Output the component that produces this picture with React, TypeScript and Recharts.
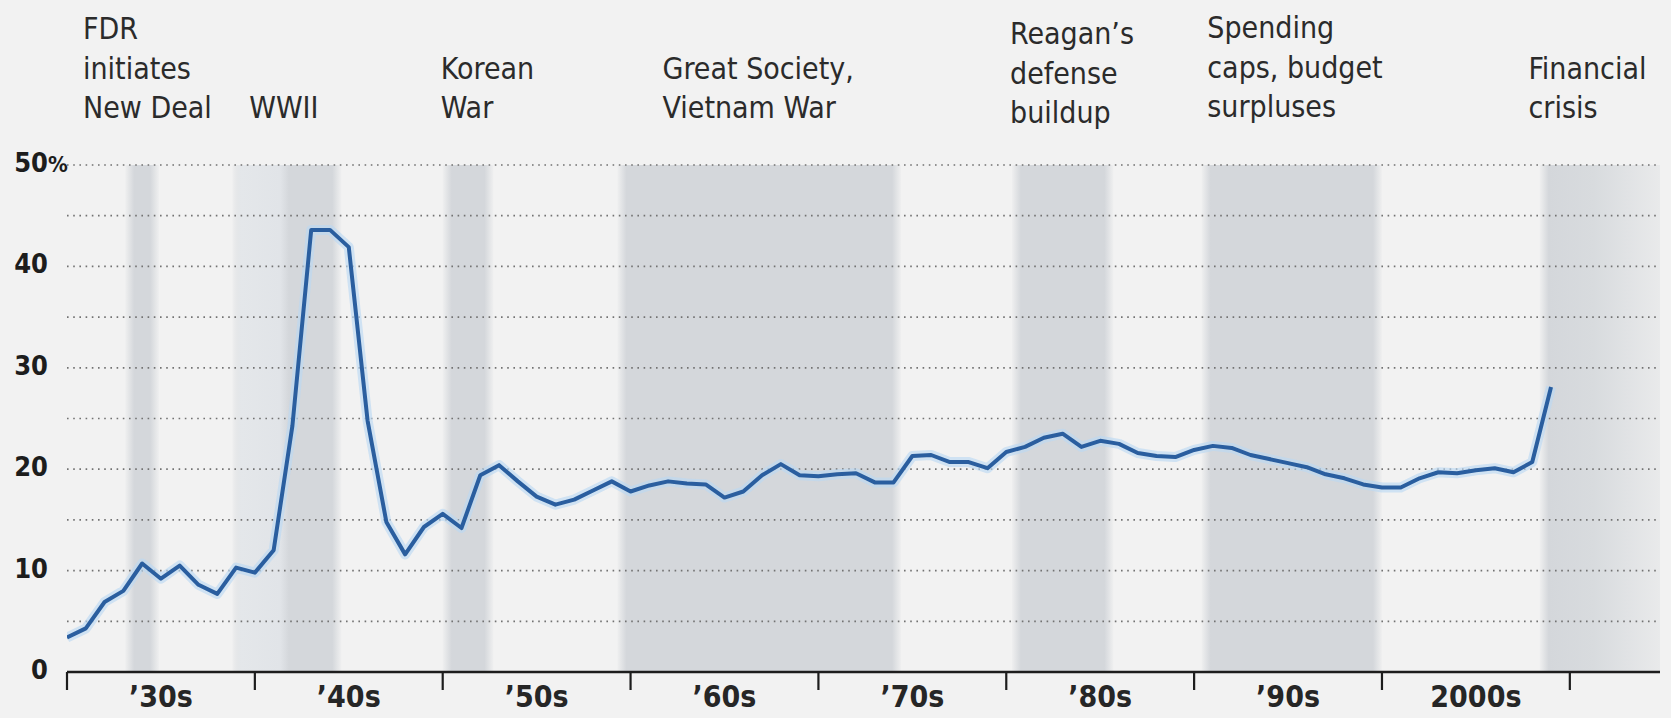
import React from "react";
import { LineChart, Line, XAxis, YAxis, ReferenceArea, ReferenceLine } from "recharts";

// Federal outlays as a share of GDP, fiscal years 1930-2009
const years = [
  1930, 1931, 1932, 1933, 1934, 1935, 1936, 1937, 1938, 1939,
  1940, 1941, 1942, 1943, 1944, 1945, 1946, 1947, 1948, 1949,
  1950, 1951, 1952, 1953, 1954, 1955, 1956, 1957, 1958, 1959,
  1960, 1961, 1962, 1963, 1964, 1965, 1966, 1967, 1968, 1969,
  1970, 1971, 1972, 1973, 1974, 1975, 1976, 1977, 1978, 1979,
  1980, 1981, 1982, 1983, 1984, 1985, 1986, 1987, 1988, 1989,
  1990, 1991, 1992, 1993, 1994, 1995, 1996, 1997, 1998, 1999,
  2000, 2001, 2002, 2003, 2004, 2005, 2006, 2007, 2008, 2009,
];
const spending = [
  3.4, 4.3, 6.9, 8.0, 10.7, 9.2, 10.5, 8.6, 7.7, 10.3,
  9.8, 12.0, 24.3, 43.6, 43.6, 41.9, 24.8, 14.8, 11.6, 14.3,
  15.6, 14.2, 19.4, 20.4, 18.8, 17.3, 16.5, 17.0, 17.9, 18.8,
  17.8, 18.4, 18.8, 18.6, 18.5, 17.2, 17.8, 19.4, 20.5, 19.4,
  19.3, 19.5, 19.6, 18.7, 18.7, 21.3, 21.4, 20.7, 20.7, 20.1,
  21.7, 22.2, 23.1, 23.5, 22.2, 22.8, 22.5, 21.6, 21.3, 21.2,
  21.9, 22.3, 22.1, 21.4, 21.0, 20.6, 20.2, 19.5, 19.1, 18.5,
  18.2, 18.2, 19.1, 19.7, 19.6, 19.9, 20.1, 19.7, 20.7, 28.1,
];

const decadeTicks = [1930, 1940, 1950, 1960, 1970, 1980, 1990, 2000, 2010];
const decadeLabelAt = [1935, 1945, 1955, 1965, 1975, 1985, 1995, 2005];
const decadeLabels = ["\u201930s", "\u201940s", "\u201950s", "\u201960s", "\u201970s", "\u201980s", "\u201990s", "2000s"];
const yTicks = [0, 5, 10, 15, 20, 25, 30, 35, 40, 45, 50];

// shaded eras
const eraStart = [1933.1, 1938.8, 1950.0, 1959.3, 1980.3, 1990.4, 2008.4];
const eraEnd = [1934.9, 1944.6, 1952.7, 1974.4, 1985.7, 2000.0, 2014.8];
const eraLabels = [
  ["FDR", "initiates", "New Deal"],
  ["WWII"],
  ["Korean", "War"],
  ["Great Society,", "Vietnam War"],
  ["Reagan\u2019s", "defense", "buildup"],
  ["Spending", "caps, budget", "surpluses"],
  ["Financial", "crisis"],
];
const eraLabelYear = [1930.85, 1939.7, 1949.9, 1961.7, 1980.2, 1990.7, 2007.8];

const data = years.map((year, i) => ({ year, v: spending[i] }));

const W = 1671;
const H = 718;
const PLOT_LEFT = 67;
const PLOT_RIGHT = 1660;
const PLOT_TOP = 165;
const X_AXIS_H = 46;
const Y_AXIS_W = 60;
const X_MIN = 1930;
const X_MAX = 2014.8;

const BG = "#f2f2f2";
const BAND = "#d4d7db";
const INK = "#1d1d1d";
const FONT = "'Liberation Sans Narrow', 'DejaVu Sans Condensed', 'DejaVu Sans', sans-serif";

const pxPerYear = (PLOT_RIGHT - PLOT_LEFT) / (X_MAX - X_MIN);
const yearToX = (y: number) => PLOT_LEFT + (y - X_MIN) * pxPerYear;

// shading profile per era: WWII lighter before US entry, crisis fades out to the right
const bandProfile = ["flat", "lightLeft", "flat", "flat", "flat", "flat", "fadeRight"];
const labelLastBaseline = [118, 118, 118, 118, 123, 117, 118];
const LINE_GAP = 39.5;

function BandGradient({ id, profile, widthPx }: { id: string; profile: string; widthPx: number }) {
  const e = Math.min(0.3, 9 / widthPx);
  if (profile === "lightLeft") {
    return (
      <linearGradient id={id} x1="0" x2="1" y1="0" y2="0">
        <stop offset="0" stopColor={BAND} stopOpacity={0.1} />
        <stop offset="0.08" stopColor="#e4e7ea" stopOpacity={1} />
        <stop offset="0.44" stopColor="#e1e4e8" stopOpacity={1} />
        <stop offset="0.52" stopColor={BAND} stopOpacity={1} />
        <stop offset={1 - e} stopColor={BAND} stopOpacity={1} />
        <stop offset="1" stopColor={BAND} stopOpacity={0.1} />
      </linearGradient>
    );
  }
  if (profile === "fadeRight") {
    return (
      <linearGradient id={id} x1="0" x2="1" y1="0" y2="0">
        <stop offset="0" stopColor={BAND} stopOpacity={0.1} />
        <stop offset={e} stopColor={BAND} stopOpacity={1} />
        <stop offset="0.45" stopColor="#d8dbde" stopOpacity={1} />
        <stop offset="1" stopColor="#e9eaeb" stopOpacity={1} />
      </linearGradient>
    );
  }
  return (
    <linearGradient id={id} x1="0" x2="1" y1="0" y2="0">
      <stop offset="0" stopColor={BAND} stopOpacity={0.1} />
      <stop offset={e} stopColor={BAND} stopOpacity={1} />
      <stop offset={1 - e} stopColor={BAND} stopOpacity={1} />
      <stop offset="1" stopColor={BAND} stopOpacity={0.1} />
    </linearGradient>
  );
}

function XTick(props: any) {
  const { x, y, payload } = props;
  const v = payload.value;
  if (decadeTicks.includes(v)) {
    return <line x1={x} x2={x} y1={y} y2={y + 18} stroke={INK} strokeWidth={2.2} />;
  }
  const idx = decadeLabelAt.indexOf(v);
  return (
    <text x={x} y={y + 35} textAnchor="middle" fontFamily={FONT} fontSize={30} fontWeight={700} fill="#262626">
      {decadeLabels[idx]}
    </text>
  );
}

function YTick(props: any) {
  const { x, y, payload } = props;
  const v = payload.value;
  if (v % 10 !== 0) return <g />;
  const tx = x - 19;
  return (
    <g>
      <text x={tx} y={y + 7} textAnchor="end" fontFamily={FONT} fontSize={27} fontWeight={700} fill={INK}>
        {v}
      </text>
      {v === 50 && (
        <text x={tx} y={y + 7} textAnchor="start" fontFamily={FONT} fontSize={22} fontWeight={700} fill={INK}>
          %
        </text>
      )}
    </g>
  );
}

export default function App() {
  return (
    <div style={{ position: "fixed", left: 0, top: 0, width: W, height: H, background: BG, overflow: "hidden" }}>
      <svg width={0} height={0} style={{ position: "absolute" }}>
        <defs>
          {eraStart.map((s, i) => (
            <BandGradient key={i} id={`era-${i}`} profile={bandProfile[i]} widthPx={(eraEnd[i] - s) * pxPerYear} />
          ))}
        </defs>
      </svg>

      <LineChart
        width={W}
        height={H}
        data={data}
        margin={{ top: PLOT_TOP, right: W - PLOT_RIGHT, bottom: 0, left: PLOT_LEFT - Y_AXIS_W }}
      >
        {eraStart.map((s, i) => (
          <ReferenceArea
            key={`era-${i}`}
            x1={s}
            x2={eraEnd[i]}
            y1={0}
            y2={50}
            fill={`url(#era-${i})`}
            fillOpacity={1}
            stroke="none"
            ifOverflow="visible"
          />
        ))}
        {yTicks.slice(1).map((t) => (
          <ReferenceLine key={`grid-${t}`} y={t} stroke="#727272" strokeWidth={1.7} strokeDasharray="1.6 4.6" />
        ))}
        <XAxis
          dataKey="year"
          type="number"
          domain={[X_MIN, X_MAX]}
          ticks={[...decadeTicks, ...decadeLabelAt].sort((a, b) => a - b)}
          interval={0}
          allowDataOverflow
          height={X_AXIS_H}
          tickSize={0}
          tickMargin={0}
          tickLine={false}
          axisLine={{ stroke: INK, strokeWidth: 2.6 }}
          tick={(p: any) => <XTick {...p} />}
        />
        <YAxis
          domain={[0, 50]}
          ticks={yTicks}
          interval={0}
          width={Y_AXIS_W}
          tickSize={0}
          tickMargin={0}
          tickLine={false}
          axisLine={false}
          tick={(p: any) => <YTick {...p} />}
        />
        {/* soft halo under the series */}
        <Line
          dataKey="v"
          type="linear"
          stroke="#bcd8f3"
          strokeOpacity={0.65}
          strokeWidth={10}
          dot={false}
          activeDot={false}
          isAnimationActive={false}
          strokeLinejoin="round"
        />
        <Line
          dataKey="v"
          type="linear"
          stroke="#2a5e9f"
          strokeWidth={4}
          dot={false}
          activeDot={false}
          isAnimationActive={false}
          strokeLinejoin="round"
        />
      </LineChart>

      <svg width={W} height={H} style={{ position: "absolute", left: 0, top: 0, pointerEvents: "none" }}>
        {eraLabels.map((lines, i) => {
          const x = yearToX(eraLabelYear[i]);
          const last = labelLastBaseline[i];
          return (
            <text key={i} fontFamily={FONT} fontSize={30} fill="#2b2b2b">
              {lines.map((ln, j) => (
                <tspan key={j} x={x} y={last - (lines.length - 1 - j) * LINE_GAP}>
                  {ln}
                </tspan>
              ))}
            </text>
          );
        })}
      </svg>
    </div>
  );
}
